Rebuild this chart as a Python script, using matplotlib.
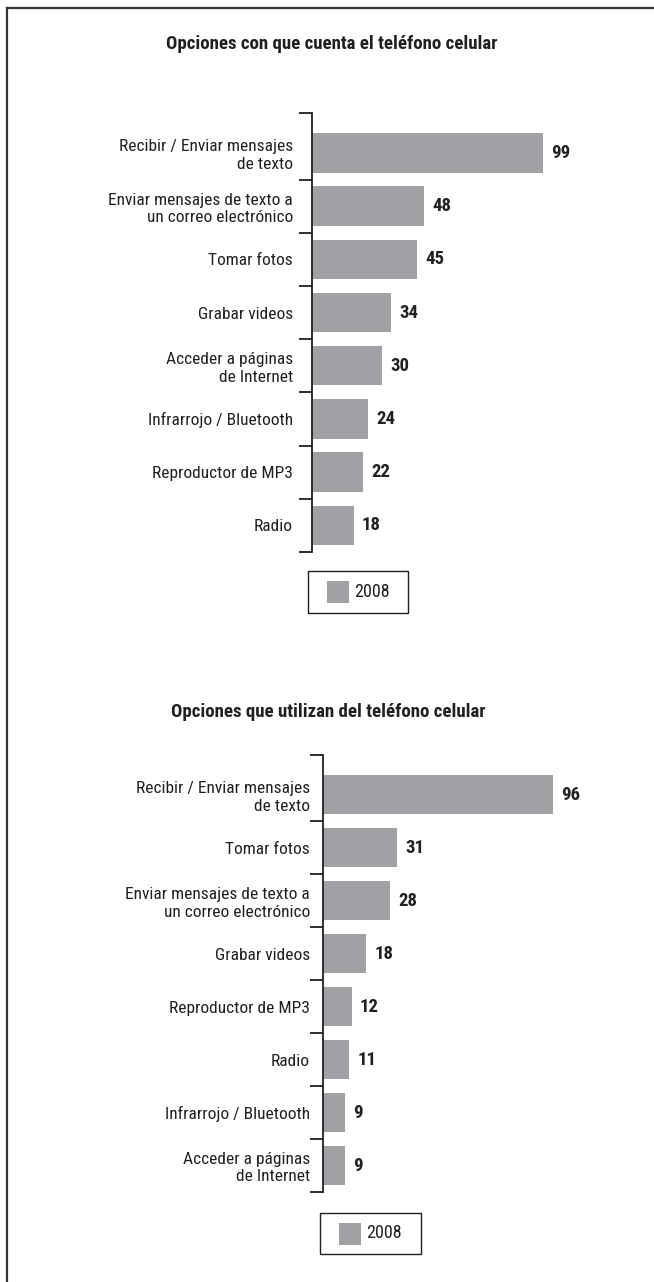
import matplotlib
matplotlib.use("Agg")
import matplotlib.pyplot as plt
from matplotlib import font_manager
from matplotlib.lines import Line2D
from matplotlib.patches import Rectangle
import numpy as np

# Prefer a narrow grotesque; fall back to Liberation Sans.
_narrow = [f for f in font_manager.fontManager.ttflist
           if f.stretch in ("condensed", "semi-condensed", "extra-condensed")
           or "Narrow" in f.name or "Condensed" in f.name]
if any(f.name == "Liberation Sans Narrow" for f in _narrow):
    FAMILY, STRETCH, SCALE = "Liberation Sans Narrow", "normal", 1.0
elif any(f.name == "Roboto Condensed" for f in _narrow):
    FAMILY, STRETCH, SCALE = "Roboto Condensed", "normal", 1.0
elif any(f.name == "DejaVu Sans" for f in _narrow):
    FAMILY, STRETCH, SCALE = "DejaVu Sans", "condensed", 0.92
else:
    FAMILY, STRETCH, SCALE = "Liberation Sans", "normal", 0.9
plt.rcParams['font.family'] = [FAMILY, 'DejaVu Sans']
plt.rcParams['font.stretch'] = STRETCH

# Chart 1 data
title_1 = "Opciones con que cuenta el teléfono celular"
categories_1 = [
    "Recibir / Enviar mensajes\nde texto",
    "Enviar mensajes de texto a\nun correo electrónico",
    "Tomar fotos",
    "Grabar videos",
    "Acceder a páginas\nde Internet",
    "Infrarrojo / Bluetooth",
    "Reproductor de MP3",
    "Radio",
]
values_1 = [99, 48, 45, 34, 30, 24, 22, 18]

# Chart 2 data
title_2 = "Opciones que utilizan del teléfono celular"
categories_2 = [
    "Recibir / Enviar mensajes\nde texto",
    "Tomar fotos",
    "Enviar mensajes de texto a\nun correo electrónico",
    "Grabar videos",
    "Reproductor de MP3",
    "Radio",
    "Infrarrojo / Bluetooth",
    "Acceder a páginas\nde Internet",
]
values_2 = [96, 31, 28, 18, 12, 11, 9, 9]

series_label = "2008"

W, H = 654, 1282
DPI = 100
BAR_COLOR = "#a0a1a4"
INK = "#231f20"

LABEL_FS = 12.5 * SCALE
VALUE_FS = 13.5 * SCALE
TITLE_FS = 13.6 * SCALE
LEGEND_FS = 13 * SCALE

fig = plt.figure(figsize=(W / DPI, H / DPI), dpi=DPI)


def fx(x):
    return x / W


def fy(y):
    return 1 - y / H


def px(x0, y0, x1, y1):
    """Pixel box (top-left origin) -> figure-fraction rect."""
    return [fx(x0), fy(y1), (x1 - x0) / W, (y1 - y0) / H]


def draw_chart(rect, cats, vals, px_per_unit, label_pad_pt):
    ax = fig.add_axes(rect)
    n = len(cats)
    y = np.arange(n)
    ax.barh(y, vals, height=0.74, color=BAR_COLOR, edgecolor="none")

    width_px = rect[2] * W
    ax.set_xlim(0, width_px / px_per_unit)
    top = -0.75
    ax.set_ylim(n - 0.5, top)

    for s in ("top", "right", "bottom"):
        ax.spines[s].set_visible(False)
    ax.spines["left"].set_color(INK)
    ax.spines["left"].set_linewidth(1.3)
    ax.set_xticks([])

    # boundary ticks between categories
    ax.set_yticks([top] + list(y + 0.5))
    ax.set_yticklabels([])
    ax.tick_params(axis="y", which="major", direction="out", length=9.4,
                   width=1.3, color=INK)
    # category names on minor ticks at the bar centres
    ax.set_yticks(y, minor=True)
    ax.set_yticklabels(cats, minor=True, fontsize=LABEL_FS, color=INK)
    ax.tick_params(axis="y", which="minor", length=0, pad=label_pad_pt)

    for yi, v in zip(y, vals):
        ax.annotate(f"{v}", (v, yi), xytext=(5.8, 0), textcoords="offset points",
                    va="center", ha="left", fontsize=VALUE_FS, fontweight="bold",
                    color=INK)
    return ax


ax1 = draw_chart(px(312, 113, 640, 552), categories_1, values_1, 2.333, 13.7)
ax2 = draw_chart(px(323, 755, 640, 1192), categories_2, values_2, 2.4, 9.4)

fig.text(fx(332), fy(44), title_1, ha="center", va="center",
         fontsize=TITLE_FS, fontweight="bold", color=INK)
fig.text(fx(328), fy(712), title_2, ha="center", va="center",
         fontsize=TITLE_FS, fontweight="bold", color=INK)


def add_legend_box(x0, y0, x1, y1):
    """Boxed key: grey swatch and the series name."""
    fig.add_artist(Rectangle((fx(x0), fy(y1)), (x1 - x0) / W, (y1 - y0) / H,
                             transform=fig.transFigure, facecolor="white",
                             edgecolor=INK, linewidth=1.0))
    cy = (y0 + y1) / 2
    sw = 22
    sx = x0 + 19
    fig.add_artist(Rectangle((fx(sx), fy(cy + sw / 2)), sw / W, sw / H,
                             transform=fig.transFigure, facecolor=BAR_COLOR,
                             edgecolor="none"))
    fig.text(fx(sx + sw + 5), fy(cy), series_label, ha="left", va="center",
             fontsize=LEGEND_FS, color=INK)


add_legend_box(308, 571, 408, 613)
add_legend_box(320, 1213, 421, 1254)

# page frame: left and top rules
fig.add_artist(Line2D([fx(7), fx(7)], [0, fy(8)], color="#333333",
                      lw=1.6, transform=fig.transFigure))
fig.add_artist(Line2D([fx(7), 1], [fy(8), fy(8)], color="#333333",
                      lw=1.6, transform=fig.transFigure))

fig.savefig("out.png", dpi=DPI, facecolor="white")
